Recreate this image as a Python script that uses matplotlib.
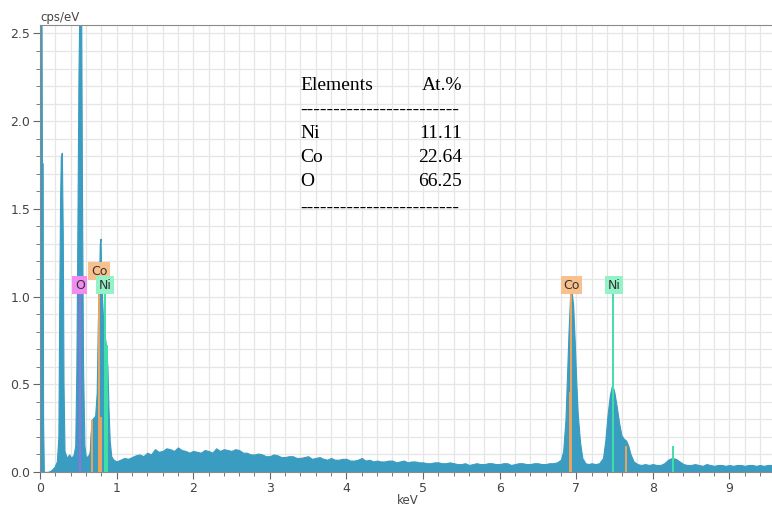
import numpy as np
import matplotlib.pyplot as plt
from matplotlib.ticker import MultipleLocator

# Spectre EDS : énergie (keV) et intensité (cps/eV)
low_kev = [0.0, 0.02, 0.025, 0.035, 0.04, 0.05, 0.10, 0.13, 0.16, 0.19, 0.22, 0.24,
           0.252, 0.262, 0.272, 0.285, 0.297, 0.307, 0.32, 0.35, 0.38, 0.41, 0.44,
           0.46, 0.475, 0.49, 0.502, 0.512, 0.538, 0.548, 0.562, 0.58, 0.60, 0.62,
           0.64, 0.65, 0.66, 0.68, 0.70, 0.72, 0.74, 0.755, 0.77, 0.78, 0.79, 0.80,
           0.82, 0.84, 0.86, 0.88, 0.895, 0.91, 0.93, 0.96]
low_cps = [2.6, 2.6, 1.76, 1.76, 0.3, 0.0, 0.0, 0.005, 0.015, 0.03, 0.06, 0.2,
           1.0, 1.55, 1.80, 1.82, 1.36, 0.5, 0.12, 0.08, 0.10, 0.08, 0.10,
           0.15, 0.6, 1.5, 2.25, 2.6, 2.6, 1.6, 0.6, 0.15, 0.08, 0.09,
           0.10, 0.12, 0.22, 0.30, 0.31, 0.32, 0.45, 0.85, 1.05, 1.30, 1.33, 1.10,
           0.90, 0.80, 0.72, 0.60, 0.35, 0.18, 0.09, 0.07]

bg_kev = [1.0, 1.05, 1.1, 1.15, 1.2, 1.25, 1.3, 1.35, 1.4, 1.45, 1.5, 1.55, 1.6, 1.65,
          1.7, 1.75, 1.8, 1.85, 1.9, 1.95, 2.0, 2.05, 2.1, 2.15, 2.2, 2.25, 2.3, 2.35,
          2.4, 2.45, 2.5, 2.55, 2.6, 2.65, 2.7, 2.75, 2.8, 2.85, 2.9, 2.95, 3.0, 3.05,
          3.1, 3.15, 3.2, 3.25, 3.3, 3.35, 3.4, 3.45, 3.5, 3.55, 3.6, 3.65, 3.7, 3.75,
          3.8, 3.85, 3.9, 3.95, 4.0, 4.05, 4.1, 4.15, 4.2, 4.25, 4.3, 4.35, 4.4, 4.45,
          4.5, 4.55, 4.6, 4.65, 4.7, 4.75, 4.8, 4.85, 4.9, 4.95, 5.0, 5.05, 5.1, 5.15,
          5.2, 5.25, 5.3, 5.35, 5.4, 5.45, 5.5, 5.55, 5.6, 5.65, 5.7, 5.75, 5.8, 5.85,
          5.9, 5.95, 6.0, 6.05, 6.1, 6.15, 6.2, 6.25, 6.3, 6.35, 6.4, 6.45, 6.5, 6.55,
          6.6, 6.65, 6.7, 6.75]
bg_cps = [0.06, 0.07, 0.08, 0.075, 0.085, 0.095, 0.10, 0.09, 0.11, 0.10, 0.13, 0.115,
          0.12, 0.135, 0.13, 0.12, 0.14, 0.125, 0.12, 0.11, 0.12, 0.115, 0.11, 0.125,
          0.12, 0.11, 0.135, 0.12, 0.13, 0.125, 0.12, 0.13, 0.125, 0.11, 0.11, 0.10,
          0.10, 0.105, 0.10, 0.09, 0.09, 0.10, 0.095, 0.085, 0.085, 0.09, 0.09, 0.08,
          0.08, 0.085, 0.09, 0.075, 0.08, 0.085, 0.075, 0.07, 0.08, 0.07, 0.07, 0.075,
          0.075, 0.065, 0.065, 0.07, 0.08, 0.065, 0.07, 0.06, 0.065, 0.06, 0.06, 0.065,
          0.065, 0.055, 0.06, 0.065, 0.055, 0.06, 0.06, 0.055, 0.055, 0.05, 0.05, 0.055,
          0.055, 0.05, 0.05, 0.055, 0.05, 0.045, 0.045, 0.05, 0.04, 0.045, 0.05, 0.045,
          0.045, 0.05, 0.05, 0.045, 0.045, 0.05, 0.05, 0.04, 0.045, 0.05, 0.05, 0.045,
          0.045, 0.05, 0.05, 0.045, 0.045, 0.05, 0.05, 0.055]

k_kev = [6.8, 6.83, 6.86, 6.88, 6.90, 6.92, 6.94, 6.96, 6.98, 7.00, 7.02, 7.05, 7.08,
         7.12, 7.16, 7.2, 7.25, 7.3, 7.35, 7.38, 7.41, 7.44, 7.47, 7.50, 7.53, 7.56,
         7.59, 7.62, 7.65, 7.68, 7.71, 7.75, 7.8, 7.85, 7.9, 7.95, 8.0, 8.05, 8.1, 8.15,
         8.2, 8.25, 8.3, 8.35, 8.4, 8.45, 8.5, 8.55, 8.6, 8.65, 8.7, 8.75, 8.8, 8.85,
         8.9, 8.95, 9.0, 9.05, 9.1, 9.15, 9.2, 9.25, 9.3, 9.35, 9.4, 9.45, 9.5, 9.6]
k_cps = [0.07, 0.12, 0.30, 0.55, 0.80, 1.00, 1.03, 0.95, 0.75, 0.52, 0.33, 0.17, 0.08,
         0.05, 0.045, 0.05, 0.045, 0.05, 0.08, 0.18, 0.33, 0.44, 0.50, 0.45, 0.37, 0.28,
         0.21, 0.19, 0.18, 0.15, 0.10, 0.06, 0.045, 0.04, 0.045, 0.04, 0.045, 0.04,
         0.04, 0.05, 0.07, 0.08, 0.075, 0.06, 0.045, 0.04, 0.04, 0.045, 0.04, 0.035,
         0.045, 0.04, 0.035, 0.04, 0.04, 0.035, 0.04, 0.035, 0.04, 0.04, 0.035, 0.04,
         0.04, 0.035, 0.04, 0.035, 0.04, 0.04]

# Raies identifiées : (énergie keV, hauteur, élément)
line_kev = [0.525, 0.678, 0.776, 0.791, 0.851, 0.869, 6.915, 6.930, 7.478, 7.649, 8.265]
line_top = [1.02, 0.29, 1.10, 0.31, 1.02, 0.72, 0.45, 1.03, 1.02, 0.145, 0.145]
line_elem = ['O', 'Co', 'Co', 'Co', 'Ni', 'Ni', 'Co', 'Co', 'Ni', 'Co', 'Ni']

# Étiquettes : (x keV, y, texte)
label_kev = [0.52, 0.77, 0.85, 6.94, 7.49]
label_y = [1.065, 1.145, 1.065, 1.065, 1.065]
label_txt = ['O', 'Co', 'Ni', 'Co', 'Ni']

# Tableau de composition
table_elem = ['Ni', 'Co', 'O']
table_at = ['11.11', '22.64', '66.25']

line_color = {'O': '#9a6ee0', 'Co': '#eda45c', 'Ni': '#3fe0a6'}
box_color = {'O': '#f28cf2', 'Co': '#f8c08c', 'Ni': '#93f2c6'}

energy = np.array(low_kev + bg_kev + k_kev)
cps = np.array(low_cps + bg_cps + k_cps)

fig = plt.figure(figsize=(7.72, 5.08), dpi=100)
ax = fig.add_axes([40/772, 36/508, 732/772, 447/508])

ax.fill_between(energy, cps, 0, color='#3a9cc0', lw=0.8, edgecolor='#3a9cc0', zorder=2)

for e, top, el in zip(line_kev, line_top, line_elem):
    ax.plot([e, e], [0, top], color=line_color[el], lw=1.4, zorder=3)

for x, y, t in zip(label_kev, label_y, label_txt):
    ax.text(x, y, t, ha='center', va='center', fontsize=9, color='#333333', zorder=4,
            bbox=dict(boxstyle='square,pad=0.2', fc=box_color[t], ec='none'))

ax.set_xlim(0, 9.556)
ax.set_ylim(0, 2.548)
ax.xaxis.set_major_locator(MultipleLocator(1))
ax.xaxis.set_minor_locator(MultipleLocator(0.2))
ax.yaxis.set_major_locator(MultipleLocator(0.5))
ax.yaxis.set_minor_locator(MultipleLocator(0.1))
ax.yaxis.set_major_formatter(plt.FormatStrFormatter('%.1f'))
ax.grid(True, which='both', color='#e6e6e6', lw=0.9, zorder=0)
ax.set_axisbelow(True)

for side in ['left', 'bottom', 'top']:
    ax.spines[side].set_color('#8a8a8a')
ax.spines['right'].set_visible(False)
ax.tick_params(which='major', length=5, color='#666666', labelsize=9,
               labelcolor='#444444', pad=2)
ax.tick_params(which='minor', length=3, color='#666666')

fig.text(40/772, 1 - 18/508, 'cps/eV', fontsize=8.5, color='#444444', ha='left', va='center')
fig.text(408/772, 1 - 500/508, 'keV', fontsize=8.5, color='#444444', ha='center', va='center')

# Tableau en police serif
serif = 'Liberation Serif'
x_left = 300/772
x_right = 462/772
fig.text(x_left, 1 - 85/508, 'Elements', family=serif, fontsize=14, va='center')
fig.text(x_right, 1 - 85/508, 'At.%', family=serif, fontsize=14, va='center', ha='right')
fig.text(x_left, 1 - 110/508, '-' * 24, family=serif, fontsize=14, va='center')
for i, (el, at) in enumerate(zip(table_elem, table_at)):
    y = 1 - (134 + 24 * i)/508
    fig.text(x_left, y, el, family=serif, fontsize=14, va='center')
    fig.text(x_right, y, at, family=serif, fontsize=14, va='center', ha='right')
fig.text(x_left, 1 - 208/508, '-' * 24, family=serif, fontsize=14, va='center')

fig.savefig('out.png', dpi=100)
